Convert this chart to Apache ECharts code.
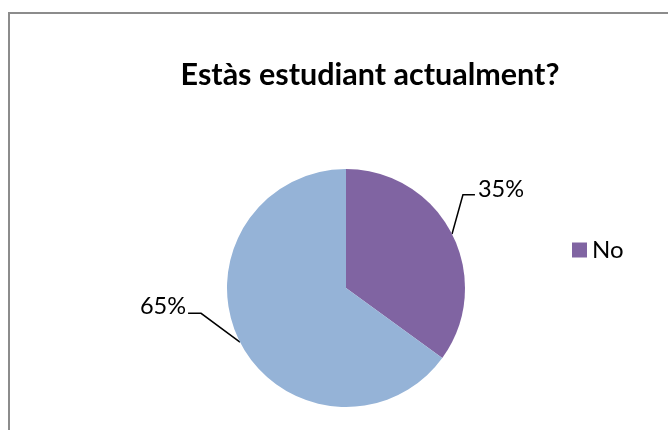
<!DOCTYPE html>
<html>
<head>
<meta charset="utf-8">
<script src="https://cdn.jsdelivr.net/npm/echarts@6/dist/echarts.min.js"></script>
<style>
html,body{margin:0;padding:0;background:#fff;}
#frame{position:absolute;left:8px;top:12px;width:680px;height:440px;border:2px solid #8c8c8c;box-sizing:border-box;}
#chart{position:absolute;left:0;top:0;width:668px;height:430px;}
</style>
</head>
<body>
<div id="frame"></div>
<div id="chart"></div>
<script>
const titleText = 'Estàs estudiant actualment?';
const categories = ['No', 'Sí'];
const values = [35, 65];
const colors = ['#8064A2', '#95B3D7'];
const legendItems = ['No'];

const chart = echarts.init(document.getElementById('chart'), null, {renderer: 'canvas'});
const labelShift = {0: {dx: 0, dy: -40}, 1: {dx: -28, dy: -40}};
function layoutLabel(p) {
  const s = labelShift[p.dataIndex];
  const r = p.labelRect;
  const nx = r.x + s.dx, ny = r.y + s.dy;
  const start = p.labelLinePoints[0];
  let end, mid;
  if (p.dataIndex === 0) {
    end = [nx - 3, ny + r.height * 0.72];
    mid = [end[0] - 12, end[1]];
  } else {
    end = [nx + r.width + 2, ny + r.height * 0.78];
    mid = [end[0] + 13, end[1]];
  }
  return {dx: s.dx, dy: s.dy, labelLinePoints: [start, mid, end]};
}
chart.setOption({
  animation: false,
  title: {
    text: titleText,
    left: 365, top: 55, textAlign: 'center',
    textStyle: {fontFamily: 'Lato', fontWeight: 'bold', fontSize: 30.5, color: '#000'}
  },
  legend: {
    data: legendItems,
    left: 567, top: 233,
    itemWidth: 15, itemHeight: 15, itemGap: 8,
    icon: 'rect',
    textStyle: {fontFamily: 'Lato', fontSize: 24, color: '#000'}
  },
  series: [{
    type: 'pie',
    center: [346, 288],
    radius: 119,
    startAngle: 90,
    clockwise: true,
    data: categories.map((c, i) => ({name: c, value: values[i], itemStyle: {color: colors[i]}})),
    label: {
      show: true,
      position: 'outside',
      formatter: p => Math.round(p.percent) + '%',
      fontFamily: 'Lato', fontSize: 23.5, color: '#000'
    },
    labelLine: {show: true, length: 10, length2: 12, smooth: false, lineStyle: {color: '#000', width: 1.5}},
    labelLayout: layoutLabel
  }]
});
</script>
</body>
</html>
